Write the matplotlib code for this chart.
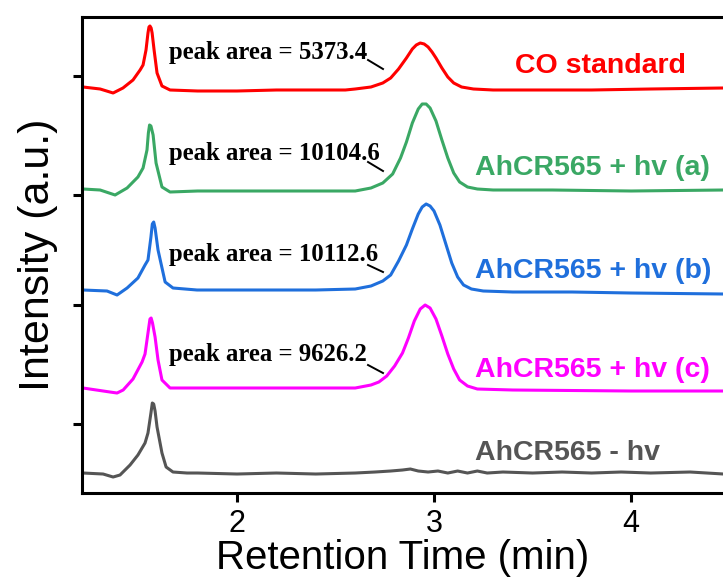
import matplotlib
matplotlib.use("Agg")
import matplotlib.pyplot as plt

# retention time (min) / intensity (a.u., above own baseline)
co_t = [1.218, 1.305, 1.371, 1.421, 1.472, 1.508, 1.523, 1.538, 1.548, 1.553, 1.558, 1.564, 1.569, 1.579, 1.594,
        1.619, 1.660, 1.80, 2.00, 2.20, 2.40, 2.55, 2.60, 2.68, 2.74, 2.78, 2.82, 2.86, 2.89, 2.91, 2.93,
        2.95, 2.97, 2.99, 3.01, 3.04, 3.07, 3.10, 3.14, 3.20, 3.30, 3.50, 3.80, 4.10, 4.47]
co_i = [3, 1, -3, 2, 10, 20, 25, 40, 57, 63, 64, 62, 57, 40, 17,
        4, 0, -1, -1, 0, 0, 0, 1, 3, 7, 12, 21, 32, 41, 45, 47,
        46, 43, 38, 32, 22, 13, 7, 3, 1, 0, 0, 0, 1, 2]

a_t = [1.218, 1.305, 1.381, 1.442, 1.497, 1.523, 1.543, 1.550, 1.556, 1.563, 1.574, 1.589, 1.619, 1.660,
       1.80, 2.00, 2.20, 2.40, 2.60, 2.68, 2.74, 2.79, 2.83, 2.86, 2.89, 2.92, 2.94, 2.96, 2.98, 3.01, 3.04,
       3.07, 3.10, 3.13, 3.17, 3.22, 3.30, 3.60, 4.00, 4.47]
a_i = [2, 1, -4, 3, 14, 23, 41, 58, 66, 65, 56, 28, 4, -1,
       0, 0, 0, 0, 0, 3, 8, 17, 33, 49, 68, 82, 87, 87, 83, 70, 51,
       33, 18, 9, 4, 2, 1, 1, 0, 1]

b_t = [1.218, 1.340, 1.391, 1.442, 1.497, 1.533, 1.548, 1.563, 1.570, 1.577, 1.584, 1.599, 1.635, 1.675, 1.797,
       2.00, 2.20, 2.40, 2.60, 2.68, 2.74, 2.78, 2.82, 2.86, 2.89, 2.92, 2.94, 2.96, 2.98, 3.00, 3.03, 3.06,
       3.09, 3.12, 3.15, 3.19, 3.25, 3.40, 3.70, 4.00, 4.47]
b_i = [0, -1, -5, 2, 12, 25, 30, 53, 66, 68, 62, 40, 8, 2, 0,
       0, 0, 0, 1, 4, 9, 15, 29, 45, 61, 76, 83, 86, 84, 79, 65, 46,
       27, 13, 5, 1, -1, -2, -2, -3, -4]

c_t = [1.218, 1.355, 1.391, 1.422, 1.472, 1.518, 1.533, 1.548, 1.558, 1.564, 1.571, 1.584, 1.599, 1.619, 1.660,
       1.80, 2.00, 2.20, 2.40, 2.60, 2.68, 2.72, 2.76, 2.80, 2.84, 2.87, 2.90, 2.93, 2.955, 2.98, 3.01,
       3.04, 3.07, 3.10, 3.13, 3.17, 3.22, 3.40, 4.00, 4.47]
c_i = [0, -4, -5, -2, 9, 26, 34, 55, 69, 70, 65, 51, 28, 8, 0,
       0, 0, 0, 0, 0, 3, 6, 12, 22, 35, 50, 67, 79, 83, 80, 69,
       52, 34, 19, 8, 2, -1, -2, -3, -3]

dark_t = [1.218, 1.320, 1.371, 1.406, 1.457, 1.497, 1.533, 1.548, 1.563, 1.570, 1.577, 1.584, 1.594, 1.619, 1.640,
          1.675, 1.746, 1.80, 2.00, 2.20, 2.40, 2.60, 2.70, 2.78, 2.84, 2.88, 2.92, 2.97, 3.02, 3.07,
          3.12, 3.17, 3.22, 3.27, 3.35, 3.50, 3.65, 3.80, 3.95, 4.10, 4.30, 4.47]
dark_i = [0, -1, -4, -2, 8, 18, 30, 40, 60, 70, 69, 62, 46, 20, 6,
          1, 0, 0, -1, 0, -1, 0, 1, 2, 3, 4, 2, 1, 2, 0,
          2, 0, 2, 0, 1, 0, 1, 0, 1, 0, 1, -1]

names = ["CO standard", "AhCR565 + hv (a)", "AhCR565 + hv (b)", "AhCR565 + hv (c)", "AhCR565 - hv"]
peak_areas = ["5373.4", "10104.6", "10112.6", "9626.2", None]
colors = ["#ff0000", "#3aa864", "#1f6fdc", "#ff00ff", "#555555"]
offsets = [403, 302, 203, 105, 20]   # vertical stacking of the traces
x_ticks = [2, 3, 4]
y_ticks = [69, 188, 298, 417]

traces = [(co_t, co_i), (a_t, a_i), (b_t, b_i), (c_t, c_i), (dark_t, dark_i)]

fig = plt.figure(figsize=(7.23, 5.84), dpi=100)
ax = fig.add_axes([0.1134, 0.1558, 0.8866, 0.8151])

# label placement (x in min, y in a.u.)
label_x = [3.411, 3.208, 3.208, 3.208, 3.208]
label_y = [420, 318, 215, 116, 33]
area_y = [434, 333, 232, 132]
lead_y = [(433, 424), (331, 322), (228, 221), (128, 120)]

for k, (t, inten) in enumerate(traces):
    y = [v + offsets[k] for v in inten]
    ax.plot(t, y, color=colors[k], lw=2.2, solid_joinstyle="round")
    ax.text(label_x[k], label_y[k], names[k], color=colors[k], fontsize=20.5,
            fontweight="bold", family="Liberation Sans", ha="left", va="baseline")
    if peak_areas[k]:
        ax.text(1.655, area_y[k], "peak area = " + peak_areas[k], fontsize=17.8,
                fontweight="bold", family="Liberation Serif", ha="left", va="baseline")
        ax.plot([2.665, 2.741], lead_y[k], color="black", lw=1.4)

ax.set_xlim(1.213, 4.467)
ax.set_ylim(0, 476)
ax.set_xticks(x_ticks)
ax.set_xticklabels([str(v) for v in x_ticks], family="Liberation Sans", fontsize=22)
ax.set_yticks(y_ticks)
ax.set_yticklabels([])
ax.tick_params(direction="out", length=6.5, width=2.2, pad=5)
ax.spines["right"].set_visible(False)
for s in ["left", "bottom", "top"]:
    ax.spines[s].set_linewidth(2.2)

ax.set_xlabel("Retention Time (min)", family="Liberation Sans", fontsize=29, labelpad=0)
ax.set_ylabel("Intensity (a.u.)", family="Liberation Sans", fontsize=31, labelpad=6)

plt.savefig("out.png", dpi=100)
plt.close()
